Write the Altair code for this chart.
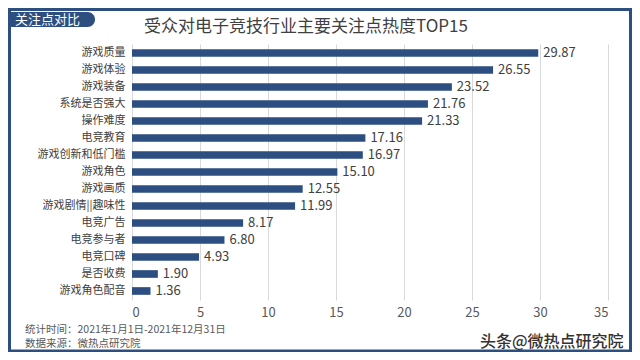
import altair as alt
import pandas as pd

categories = ["游戏质量", "游戏体验", "游戏装备", "系统是否强大", "操作难度", "电竞教育",
              "游戏创新和低门槛", "游戏角色", "游戏画质", "游戏剧情||趣味性", "电竞广告",
              "电竞参与者", "电竞口碑", "是否收费", "游戏角色配音"]
values = [29.87, 26.55, 23.52, 21.76, 21.33, 17.16, 16.97, 15.10, 12.55, 11.99,
          8.17, 6.80, 4.93, 1.90, 1.36]
x_ticks = [0, 5, 10, 15, 20, 25, 30, 35]

title_text = "受众对电子竞技行业主要关注点热度TOP15"
tab_text = "关注点对比"
footer_lines = ["统计时间：2021年1月1日-2021年12月31日", "数据来源：微热点研究院"]
watermark = "头条@微热点研究院"

FONT = "Noto Sans CJK SC"
BLUE = "#2c4e80"
FRAME = "#2d4f80"

df = pd.DataFrame({"category": categories, "value": values})
one = pd.DataFrame({"k": [0]})

x_enc = alt.X("value:Q", scale=alt.Scale(domain=[0, 35], nice=False),
              axis=alt.Axis(values=x_ticks, domain=False, ticks=False, grid=True,
                            gridColor="#d9d9d9", gridWidth=1, labelFontSize=13,
                            labelColor="#595959", labelPadding=6, title=None,
                            labelFont=FONT))
y_enc = alt.Y("category:N", sort=None,
              scale=alt.Scale(paddingInner=0.55, paddingOuter=0.305),
              axis=alt.Axis(domain=False, ticks=False, labelFontSize=11,
                            labelColor="#404040", labelPadding=7, title=None,
                            labelFont=FONT))

bars = alt.Chart(df).mark_bar(color=BLUE).encode(x=x_enc, y=y_enc)
labels = alt.Chart(df).mark_text(align="left", baseline="middle", dx=5, fontSize=13,
                                 color="#404040", font=FONT).encode(
    x="value:Q", y=alt.Y("category:N", sort=None),
    text=alt.Text("value:Q", format=".2f"))

def rect(x1, x2, y1, y2, color, **kw):
    return alt.Chart(one).mark_rect(color=color, **kw).encode(
        x=alt.value(x1), x2=alt.value(x2), y=alt.value(y1), y2=alt.value(y2))

def text(t, x, y, size, color, align="left", **kw):
    return alt.Chart(one).mark_text(text=t, fontSize=size, color=color, align=align,
                                    baseline="middle", font=FONT, **kw).encode(
        x=alt.value(x), y=alt.value(y))

frame = [
    rect(-124, -121, -36, 308, FRAME),
    rect(-124, 500, -36, -33, FRAME),
    rect(497, 500, -36, 308, FRAME),
    rect(-124, 500, 305.5, 308, FRAME),
]
tab = rect(-124, -37, -32, -17, FRAME, cornerRadiusTopRight=7.5,
           cornerRadiusBottomRight=7.5)
tab_label = text(tab_text, -84.5, -24, 13, "white", align="center")
title = text(title_text, 174, -17, 17, "#404040", align="center")
foot1 = text(footer_lines[0], -107, 286, 10.5, "#595959")
foot2 = text(footer_lines[1], -107, 300, 10.5, "#595959")
wm = text(watermark, 348, 298, 16, "#333333", fontWeight=500)

chart = alt.layer(bars, labels, *frame, tab, tab_label, title, foot1, foot2, wm).properties(
    width=476, height=256,
    padding={"left": 124, "top": 36, "right": 24, "bottom": 52},
    autosize=alt.AutoSizeParams(type="none"),
    background="white",
).configure_view(stroke=None)

chart.save("out.html", embed_options={"renderer": "svg", "actions": False})
